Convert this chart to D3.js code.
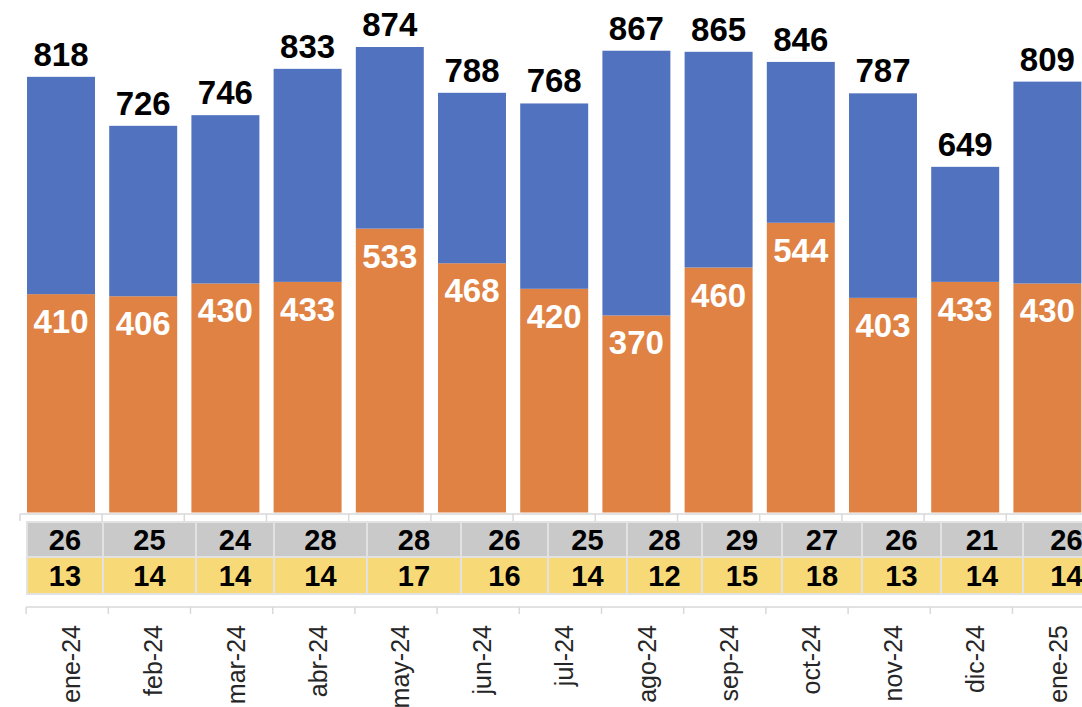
<!DOCTYPE html>
<html>
<head>
<meta charset="utf-8">
<script src="https://cdn.jsdelivr.net/npm/d3@7"></script>
<style>
 html, body { margin: 0; padding: 0; background: #ffffff; }
 #grafico { width: 1082px; height: 707px; overflow: hidden; }
</style>
</head>
<body>
<div id="grafico"></div>
<script>
//Categories (months).
var categorias = ["ene-24", "feb-24", "mar-24", "abr-24", "may-24", "jun-24", "jul-24", "ago-24", "sep-24", "oct-24", "nov-24", "dic-24", "ene-25"];

//Orange series (bottom segment).
var serieNaranja = [410, 406, 430, 433, 533, 468, 420, 370, 460, 544, 403, 433, 430];

//Blue series (top segment).
var serieAzul = [408, 320, 316, 400, 341, 320, 348, 497, 405, 302, 384, 216, 379];

//Data table rows under the chart.
var filaGris = [26, 25, 24, 28, 28, 26, 25, 28, 29, 27, 26, 21, 26];
var filaAmarilla = [13, 14, 14, 14, 17, 16, 14, 12, 15, 18, 13, 14, 14];

//Column edges of the data table (it does not follow the bar bands).
var bordesTabla = [27, 103, 196, 274, 367, 461, 548, 627, 702, 782, 862, 941, 1023, 1110];

window.onload = function()
{
 var width = 1082, height = 707;

 var svg = d3.select("#grafico").append("svg").attr("width", width).attr("height", height);

 //Colours.
 var azul = "#5172be";
 var naranja = "#df8244";
 var gris = "#c9c9c9";
 var amarillo = "#f8d977";
 var lineaGris = "#d9d9d9";

 //Scales.
 var paso = 82.2;
 var x = d3.scaleBand().domain(categorias).range([19.9, 19.9 + paso * categorias.length]).paddingInner(0.173).paddingOuter(0.0865);
 var y = d3.scaleLinear().domain([0, 874]).range([512.5, 47]);

 //Stack the two series.
 var filas = categorias.map(function(c, i)
 {
  return { mes: c, naranja: serieNaranja[i], azul: serieAzul[i] };
 });
 var pila = d3.stack().keys(["naranja", "azul"])(filas);
 var colores = { naranja: naranja, azul: azul };

 //Draw the bars.
 svg.append("g").selectAll("g").data(pila).enter().append("g")
  .attr("fill", function(d) { return colores[d.key]; })
  .selectAll("rect").data(function(d) { return d; }).enter().append("rect")
  .attr("x", function(d) { return x(d.data.mes); })
  .attr("y", function(d) { return y(d[1]); })
  .attr("width", x.bandwidth())
  .attr("height", function(d) { return y(d[0]) - y(d[1]); });

 //Total labels above each bar.
 svg.append("g").selectAll("text").data(filas).enter().append("text")
  .attr("x", function(d) { return x(d.mes) + x.bandwidth() / 2; })
  .attr("y", function(d) { return y(d.naranja + d.azul) - 11; })
  .attr("text-anchor", "middle")
  .style("font-family", "'Liberation Sans', Arial, sans-serif")
  .style("font-weight", "bold")
  .style("font-size", "33px")
  .attr("fill", "#000")
  .text(function(d) { return d.naranja + d.azul; });

 //Orange value labels inside the bars.
 svg.append("g").selectAll("text").data(filas).enter().append("text")
  .attr("x", function(d) { return x(d.mes) + x.bandwidth() / 2; })
  .attr("y", function(d) { return y(d.naranja) + 39; })
  .attr("text-anchor", "middle")
  .style("font-family", "'Liberation Sans', Arial, sans-serif")
  .style("font-weight", "bold")
  .style("font-size", "33px")
  .attr("fill", "#fff")
  .text(function(d) { return d.naranja; });

 //Upper axis line with ticks on the band edges.
 var bordeBanda = function(c) { return x(c) - x.step() * x.paddingInner() / 2; };
 var ejeArriba = svg.append("g").attr("stroke", lineaGris).attr("stroke-width", 1.5);
 ejeArriba.append("line").attr("x1", 19.9).attr("x2", width).attr("y1", 514).attr("y2", 514);
 ejeArriba.selectAll(".tick").data(categorias).enter().append("line")
  .attr("x1", bordeBanda).attr("x2", bordeBanda)
  .attr("y1", 514).attr("y2", 521);

 //Data table.
 var tabla = svg.append("g");
 var filasTabla = [
  { valores: filaGris, color: gris, y0: 522, y1: 557 },
  { valores: filaAmarilla, color: amarillo, y0: 557, y1: 594 }
 ];
 filasTabla.forEach(function(f)
 {
  tabla.append("g").selectAll("rect").data(f.valores).enter().append("rect")
   .attr("x", function(d, i) { return bordesTabla[i]; })
   .attr("y", f.y0)
   .attr("width", function(d, i) { return bordesTabla[i + 1] - bordesTabla[i]; })
   .attr("height", f.y1 - f.y0)
   .attr("fill", f.color)
   .attr("stroke", "#e2e2e2")
   .attr("stroke-width", 2);

  tabla.append("g").selectAll("text").data(f.valores).enter().append("text")
   .attr("x", function(d, i) { return (bordesTabla[i] + bordesTabla[i + 1]) / 2; })
   .attr("y", (f.y0 + f.y1) / 2 + 10.5)
   .attr("text-anchor", "middle")
   .style("font-family", "'Liberation Sans', Arial, sans-serif")
   .style("font-weight", "bold")
   .style("font-size", "29px")
   .attr("fill", "#000")
   .text(function(d) { return d; });
 });

 //Lower axis with month labels.
 var desplazamiento = 6.2;
 var ejeAbajo = svg.append("g").attr("stroke", lineaGris).attr("stroke-width", 1.5);
 ejeAbajo.append("line").attr("x1", 19.9 + desplazamiento).attr("x2", width).attr("y1", 607).attr("y2", 607);
 ejeAbajo.selectAll(".tick").data(categorias).enter().append("line")
  .attr("x1", function(c) { return bordeBanda(c) + desplazamiento; })
  .attr("x2", function(c) { return bordeBanda(c) + desplazamiento; })
  .attr("y1", 607).attr("y2", 614);

 svg.append("g").selectAll("text").data(categorias).enter().append("text")
  .attr("transform", function(c)
  {
   return "translate(" + (bordeBanda(c) + desplazamiento + 54) + ",625) rotate(-90)";
  })
  .attr("text-anchor", "end")
  .style("font-family", "'Liberation Sans', Arial, sans-serif")
  .style("font-size", "25px")
  .attr("fill", "#262626")
  .text(function(c) { return c; });
};
</script>
</body>
</html>
